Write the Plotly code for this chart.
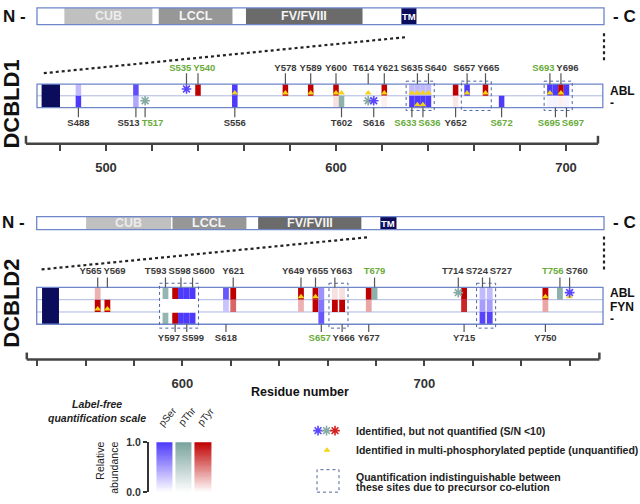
import numpy as np
import plotly.graph_objects as go

W, H = 640, 504
FONT = "Liberation Sans, Arial, Helvetica, sans-serif"

# ======================= DATA =======================
# Full-length domain architecture (residue ranges)
D1_LENGTH = 715
D1_DOMAIN_NAMES = ["CUB", "LCCL", "FV/FVIII", "TM"]
D1_DOMAIN_START = [35, 154, 264, 460]
D1_DOMAIN_END = [146, 247, 411, 479]

D2_LENGTH = 775
D2_DOMAIN_NAMES = ["CUB", "LCCL", "FV/FVIII", "TM"]
D2_DOMAIN_START = [68, 186, 303, 470]
D2_DOMAIN_END = [184, 287, 444, 492]

# Zoomed windows (residues), TM marker inside window, ruler extent, ticks
D1_WINDOW = [470, 716]
D1_WINDOW_TM = [472, 480]
D1_RULER = [465.2, 713.9]
D1_TICKS = [480, 500, 520, 540, 560, 580, 600, 620, 640, 660, 680, 700]
D1_TICK_LABELS = ["", "500", "", "", "", "", "600", "", "", "", "", "700"]

D2_WINDOW = [539.8, 773.8]
D2_WINDOW_TM = [542, 549]
D2_RULER = [535.7, 772.3]
D2_TICKS = [540, 560, 580, 600, 620, 640, 660, 680, 700, 720, 740, 760]
D2_TICK_LABELS = ["", "", "", "600", "", "", "", "", "700", "", "", ""]

# DCBLD1 phosphosites, relative abundance per condition (0 = not detected)
D1_CONDITIONS = ["ABL", "-"]
D1_SITES = ["S488", "S513", "T517", "S535", "Y540", "S556", "Y578", "Y589", "Y600",
            "T602", "T614", "S616", "Y621", "S633", "S635", "S636", "S640", "Y652",
            "S657", "Y665", "S672", "S693", "S695", "Y696", "S697"]
D1_ABL = [0.35, 0.90, 0, 0, 1.0, 1.0, 1.0, 1.0, 1.0,
          0, 0, 0, 1.0, 0.35, 0.35, 0.35, 0.35, 1.0,
          1.0, 1.0, 0, 1.0, 1.0, 1.0, 1.0]
D1_CTRL = [1.0, 0.45, 0, 0, 0, 1.0, 0, 0, 0.12,
           0.85, 0, 0, 0.06, 1.0, 1.0, 1.0, 1.0, 0.10,
           0, 0, 1.0, 0.06, 0.06, 0.06, 0.06]
D1_MULTI_ABL = ["S556", "Y578", "Y589", "Y600", "T602", "T614", "Y621", "S633", "S635",
                "S636", "S640", "S657", "Y665", "S693", "Y696"]
D1_MULTI_CTRL = ["S635", "S636"]
D1_NOQUANT_ABL = ["S535"]
D1_NOQUANT_CTRL = ["T517", "T614", "S616"]
D1_LABEL_ABOVE = ["S535", "Y540", "Y578", "Y589", "Y600", "T614", "Y621", "S635", "S640",
                  "S657", "Y665", "S693", "Y696"]
D1_GREEN = ["T517", "S535", "Y540", "S633", "S636", "S672", "S693", "S695", "S697"]
D1_COELUTION = [["S633", "S635", "S636", "S640"], ["S657", "Y665"],
                ["S693", "S695", "Y696", "S697"]]
D1_COELUTION_GAP_ROW = [None, None, None]

# DCBLD2 phosphosites
D2_CONDITIONS = ["ABL", "FYN", "-"]
D2_SITES = ["Y565", "Y569", "T593", "Y597", "S598", "S599", "S600", "S618", "Y621",
            "Y649", "Y655", "S657", "Y663", "Y666", "Y677", "T679", "T714", "Y715",
            "S724", "S727", "Y750", "T756", "S760"]
D2_ABL = [0.30, 0, 0.80, 1.0, 1.0, 1.0, 1.0, 0.85, 1.0,
          1.0, 1.0, 0.55, 0.12, 0.12, 1.0, 0.85, 0, 1.0,
          0.35, 0.35, 1.0, 0.85, 0]
D2_FYN = [1.0, 1.0, 0, 0, 0, 0, 0, 0.30, 0.60,
          0.30, 1.0, 0.70, 1.0, 1.0, 0.35, 0, 0, 0.85,
          0.50, 0.50, 0.35, 0, 0]
D2_CTRL = [0, 0, 0.80, 1.0, 1.0, 1.0, 1.0, 0, 0,
           0, 0, 0.85, 0, 0, 0, 0, 0, 0,
           0.95, 0.95, 0, 0, 0]
D2_MULTI_ABL = ["Y649", "Y655", "Y750", "S760"]
D2_MULTI_FYN = ["Y565", "Y569"]
D2_NOQUANT_ABL = ["T714", "S760"]
D2_LABEL_ABOVE = ["Y565", "Y569", "T593", "S598", "S600", "Y621", "Y649", "Y655", "Y663",
                  "T679", "T714", "S724", "S727", "T756", "S760"]
D2_GREEN = ["S657", "T679", "T756"]
D2_COELUTION = [["T593", "Y597", "S598", "S599", "S600"], ["Y663", "Y666"], ["S724", "S727"]]
D2_COELUTION_GAP_ROW = ["FYN", None, None]

SCALE_NAMES = ["pSer", "pThr", "pTyr"]
SCALE_AA = ["S", "T", "Y"]
SCALE_TICKS = [0, 1]
SCALE_TICK_LABELS = ["0.0", "1.0"]

# ======================= STYLE =======================
BASE = {"S": (78, 58, 250), "T": (122, 163, 157), "Y": (192, 0, 0)}
STAR = {"S": "#5a46ff", "T": "#86aaa4", "Y": "#d42020"}
DARK = "#3a3a3a"
GREEN = "#6aab3b"
TRI = "#f5d315"
ROWLINE = "#aab8e0"
BORDER = "#6f86c8"
GROUPLINE = "#4f62a0"
NAVY = "#0c0c5c"
DOMAIN_FILL = ["#c0c0c0", "#979797", "#6b6b6b", NAVY]
DOMAIN_TEXT = ["#ededed", "#f4f4f4", "#f4f4f4", "#ffffff"]
BAR_W = 2.4
LABEL_GAP_PX = 24

T1 = dict(top=80.0, row_h=12.0, dom=(56, 141), ppr=2.3, ref_res=500, ref_px=106,
          top_lab=64.5, top_line=(69, 80), bot_line=(104, 114), bot_lab=120.5,
          box=(77, 107), cap=8, lab_y=[87, 99])
T2 = dict(top=288.3, row_h=12.57, dom=(260, 362), ppr=2.42, ref_res=600, ref_px=182.4,
          top_lab=272.5, top_line=(278, 288.3), bot_line=(326, 334), bot_lab=341,
          box=(284, 330), cap=7, lab_y=[294, 308, 321])


def py(p):
    return 1 - p / H


def row_y(T, p):
    return (p - T["top"]) / T["row_h"]


def xrange_for(T):
    return [T["ref_res"] - T["ref_px"] / T["ppr"], T["ref_res"] + (W - T["ref_px"]) / T["ppr"]]


def rgb_of(aa, v):
    r, g, b = BASE[aa]
    return (round(255 + (r - 255) * v), round(255 + (g - 255) * v), round(255 + (b - 255) * v))


def tint(aa, v):
    return "rgb(%d,%d,%d)" % rgb_of(aa, v)


def dodge(res, gap):
    pos = np.array(res, float)
    last = -1e9
    for i in np.argsort(res, kind="stable"):
        p = max(res[i], last + gap)
        pos[i] = p
        last = p
    return pos


def spread(xs, gap):
    xs = list(xs)
    order = sorted(range(len(xs)), key=lambda i: xs[i])
    clusters = [[i] for i in order]

    def place(c):
        m = sum(xs[i] for i in c) / len(c)
        n = len(c)
        return [m + (k - (n - 1) / 2) * gap for k in range(n)]

    merged = True
    while merged:
        merged = False
        for j in range(len(clusters) - 1):
            a, b = place(clusters[j]), place(clusters[j + 1])
            if b[0] - a[-1] < gap - 1e-9:
                clusters[j] = clusters[j] + clusters[j + 1]
                del clusters[j + 1]
                merged = True
                break
    out = [0.0] * len(xs)
    for c in clusters:
        for i, p in zip(c, place(c)):
            out[i] = p
    return out


fig = go.Figure()
shapes = []
annotations = []


def draw_track(xa, ya, T, sites, conds, vals, multi, noquant, above, green, groups, gap_rows,
               window, window_tm, ruler):
    n = len(conds)
    res = [int(s[1:]) for s in sites]
    pos = dodge(res, BAR_W)
    idx = {s: i for i, s in enumerate(sites)}
    L = "below"
    shapes.append(dict(type="rect", xref=xa, yref=ya, x0=window[0], x1=window[1], y0=0, y1=n,
                       fillcolor="white", line=dict(width=0), layer=L))
    for k in range(1, n):
        shapes.append(dict(type="line", xref=xa, yref=ya, x0=window[0], x1=window[1], y0=k, y1=k,
                           line=dict(color=ROWLINE, width=1), layer=L))
    shapes.append(dict(type="rect", xref=xa, yref=ya, x0=window_tm[0], x1=window_tm[1], y0=0, y1=n,
                       fillcolor=NAVY, line=dict(width=0), layer=L))
    for r, rv in enumerate(vals):
        for i, s in enumerate(sites):
            if rv[i] > 0:
                shapes.append(dict(type="rect", xref=xa, yref=ya, x0=pos[i] - BAR_W / 2,
                                   x1=pos[i] + BAR_W / 2, y0=r, y1=r + 1,
                                   fillcolor=tint(s[0], rv[i]), line=dict(width=0), layer=L))
    pad = 3.0 / T["ppr"]
    ext = []
    for g in groups:
        gp = [pos[idx[s]] for s in g]
        ext.append((min(gp) - BAR_W / 2 - pad, max(gp) + BAR_W / 2 + pad))
    for (gx0, gx1), gr in zip(ext, gap_rows):
        if gr is not None:
            r = conds.index(gr)
            shapes.append(dict(type="rect", xref=xa, yref=ya, x0=gx0, x1=gx1, y0=r - 0.06,
                               y1=r + 1.06, fillcolor="white", line=dict(width=0), layer=L))
    shapes.append(dict(type="rect", xref=xa, yref=ya, x0=window[0], x1=window[1], y0=0, y1=n,
                       line=dict(color=BORDER, width=1.3), layer=L))
    by0, by1 = row_y(T, T["box"][0]), row_y(T, T["box"][1])
    for gx0, gx1 in ext:
        shapes.append(dict(type="rect", xref=xa, yref=ya, x0=gx0, x1=gx1, y0=by0, y1=by1,
                           line=dict(color=GROUPLINE, width=1, dash="dot"), layer=L))
    # ruler
    yd = ya + " domain"
    shapes.append(dict(type="line", xref=xa, yref=yd, x0=ruler[0], x1=ruler[1], y0=0, y1=0,
                       line=dict(color="#444", width=2.5)))
    capf = T["cap"] / (T["dom"][1] - T["dom"][0])
    for xr in ruler:
        shapes.append(dict(type="line", xref=xa, yref=yd, x0=xr, x1=xr, y0=0, y1=capf,
                           line=dict(color="#444", width=2.5)))
    # triangles & stars
    tx, ty, sx, sy, sc = [], [], [], [], []
    for r, c in enumerate(conds):
        for s in multi.get(c, []):
            tx.append(pos[idx[s]]); ty.append(r + 0.76)
        for s in noquant.get(c, []):
            sx.append(pos[idx[s]]); sy.append(r + 0.42); sc.append(STAR[s[0]])
    fig.add_trace(go.Scatter(x=tx, y=ty, mode="markers", xaxis=xa, yaxis=ya, hoverinfo="skip",
                             marker=dict(symbol="triangle-up", size=6, color=TRI, line=dict(width=0))))
    fig.add_trace(go.Scatter(x=sx, y=sy, mode="markers", xaxis=xa, yaxis=ya, hoverinfo="skip",
                             marker=dict(symbol="asterisk-open", size=8, color=sc,
                                         line=dict(width=1.6, color=sc))))
    # labels with leader lines
    top_idx = [i for i, s in enumerate(sites) if s in above]
    bot_idx = [i for i, s in enumerate(sites) if s not in above]
    groups_lab = [(top_idx, T["top_lab"], T["top_line"]), (bot_idx, T["bot_lab"], T["bot_line"])]
    for ids, ylab, (l0, l1) in groups_lab:
        lx = spread([pos[i] for i in ids], LABEL_GAP_PX / T["ppr"])
        fig.add_trace(go.Scatter(
            x=lx, y=[row_y(T, ylab)] * len(ids), mode="text", xaxis=xa, yaxis=ya,
            text=["<b>%s</b>" % sites[i] for i in ids], hoverinfo="skip", cliponaxis=False,
            textfont=dict(family=FONT, size=9.5,
                          color=[GREEN if sites[i] in green else DARK for i in ids])))
        for i in ids:
            shapes.append(dict(type="line", xref=xa, yref=ya, x0=pos[i], x1=pos[i],
                               y0=row_y(T, l0), y1=row_y(T, l1),
                               line=dict(color="#555", width=1.2), layer=L))
    # condition labels
    for c, yl in zip(conds, T["lab_y"]):
        annotations.append(dict(x=608 / W, y=py(yl),
                                xref="paper", yref="paper", xanchor="left", yanchor="middle",
                                showarrow=False, text="<b>%s</b>" % c,
                                font=dict(size=12, color="#111")))


def draw_overview(xa, ya, names, starts, ends, fs):
    for nm, s0, s1, fc, tc in zip(names, starts, ends, DOMAIN_FILL, DOMAIN_TEXT):
        shapes.append(dict(type="rect", xref=xa, yref=ya + " domain", x0=s0, x1=s1, y0=0, y1=1,
                           fillcolor=fc, line=dict(width=0)))
        annotations.append(dict(x=(s0 + s1) / 2, y=0.5, xref=xa, yref=ya + " domain",
                                xanchor="center", yanchor="middle",
                                showarrow=False, text="<b>%s</b>" % nm,
                                font=dict(size=fs if nm != "TM" else 9.5, color=tc)))
    shapes.append(dict(type="rect", xref=xa + " domain", yref=ya + " domain", x0=0, x1=1, y0=0,
                       y1=1, line=dict(color=BORDER, width=1.3)))


draw_overview("x3", "y3", D1_DOMAIN_NAMES, D1_DOMAIN_START, D1_DOMAIN_END, 12.5)
draw_overview("x4", "y4", D2_DOMAIN_NAMES, D2_DOMAIN_START, D2_DOMAIN_END, 12.5)

draw_track("x", "y", T1, D1_SITES, D1_CONDITIONS, [D1_ABL, D1_CTRL],
           {"ABL": D1_MULTI_ABL, "-": D1_MULTI_CTRL},
           {"ABL": D1_NOQUANT_ABL, "-": D1_NOQUANT_CTRL},
           D1_LABEL_ABOVE, D1_GREEN, D1_COELUTION, D1_COELUTION_GAP_ROW,
           D1_WINDOW, D1_WINDOW_TM, D1_RULER)
draw_track("x2", "y2", T2, D2_SITES, D2_CONDITIONS, [D2_ABL, D2_FYN, D2_CTRL],
           {"ABL": D2_MULTI_ABL, "FYN": D2_MULTI_FYN},
           {"ABL": D2_NOQUANT_ABL},
           D2_LABEL_ABOVE, D2_GREEN, D2_COELUTION, D2_COELUTION_GAP_ROW,
           D2_WINDOW, D2_WINDOW_TM, D2_RULER)

# quantification scale (gradient legend): one heatmap, column k uses band [2k, 2k+1]
grad = np.linspace(0, 1, 60)
zz = np.column_stack([grad + 2 * k for k in range(len(SCALE_NAMES))])
cs = []
for k, aa in enumerate(SCALE_AA):
    cs.append([(2 * k) / 5, "white"])
    cs.append([(2 * k + 1) / 5, tint(aa, 1)])
fig.add_trace(go.Heatmap(z=zz, x0=0, dx=1, y0=0, dy=1 / 59, xaxis="x5", yaxis="y5",
                         zmin=0, zmax=5, showscale=False, xgap=3, hoverinfo="skip",
                         colorscale=cs))

# legend glyphs (pixel overlay)
leg_star_col = [STAR["S"], STAR["T"], STAR["Y"]]
fig.add_trace(go.Scatter(x=[318, 326.5, 335], y=[435, 435, 435], mode="markers", xaxis="x6",
                         yaxis="y6", hoverinfo="skip",
                         marker=dict(symbol="asterisk-open", size=8, color=leg_star_col,
                                     line=dict(width=1.6, color=leg_star_col))))
fig.add_trace(go.Scatter(x=[327], y=[455], mode="markers", xaxis="x6", yaxis="y6",
                         hoverinfo="skip",
                         marker=dict(symbol="triangle-up", size=6, color=TRI)))
shapes.append(dict(type="rect", xref="paper", yref="paper", x0=317 / W, x1=339 / W, y0=py(498),
                   y1=py(475), line=dict(color=GROUPLINE, width=1, dash="dot")))

# dotted zoom connectors
for (xa0, ya0, xa1, ya1) in [(405, 32, 42, 69), (604, 28, 604, 58),
                             (367, 237, 40, 270), (604, 236, 604, 273)]:
    shapes.append(dict(type="line", xref="paper", yref="paper", x0=xa0 / W, y0=py(ya0),
                       x1=xa1 / W, y1=py(ya1), line=dict(color="#222", width=2.2, dash="dot")))


def txt(x, y, s, size, color="#111", angle=0, xanchor="center", align="center"):
    annotations.append(dict(x=x / W, y=py(y), xref="paper", yref="paper", text=s,
                            showarrow=False, textangle=angle, xanchor=xanchor,
                            yanchor="middle", align=align,
                            font=dict(size=size, color=color)))


txt(14, 11, "<b>N -</b>", 17)
txt(624, 11, "<b>- C</b>", 17)
txt(13, 222, "<b>N -</b>", 17)
txt(624, 222, "<b>- C</b>", 17)
txt(12, 101, "<b>DCBLD1</b>", 22, angle=-90)
txt(12, 305, "<b>DCBLD2</b>", 22, angle=-90)
txt(300, 395, "<b>Residue number</b>", 12.5)
txt(97, 408, "<b><i>Label-free</i></b>", 10.5, "#222")
txt(97, 422, "<b><i>quantification scale</i></b>", 10.5, "#222")
txt(107, 473, "Relative<br>abundance", 10.5, "#222", angle=-90, align="right")
for k, name in enumerate(SCALE_NAMES):
    txt(168 + 19 * k, 421, name, 10, "#222", angle=-50)
txt(354, 435, "<b>Identified, but not quantified (S/N &lt;10)</b>", 10.5, "#222", xanchor="left")
txt(354, 455, "<b>Identified in multi-phosphorylated peptide (unquantified)</b>", 10.5, "#222",
    xanchor="left")
txt(354, 482, "<b>Quantification indistinguishable between</b>", 10.5, "#222", xanchor="left")
txt(354, 493, "<b>these sites due to precursor co-elution</b>", 10.5, "#222", xanchor="left")


def ruler_axis(T, ticks, labels, anchor):
    return dict(domain=[0, 1], range=xrange_for(T), anchor=anchor, showgrid=False, zeroline=False,
                showline=False, tickmode="array", tickvals=ticks,
                ticktext=["<b>%s</b>" % t if t else "" for t in labels], ticks="outside",
                ticklen=6, tickwidth=2, tickcolor="#444", ticklabelstandoff=6,
                tickfont=dict(size=13, color="#333", family=FONT), fixedrange=True)


def track_yaxis(T):
    return dict(domain=[py(T["dom"][1]), py(T["dom"][0])],
                range=[row_y(T, T["dom"][1]), row_y(T, T["dom"][0])], visible=False,
                fixedrange=True)


hidden = dict(visible=False, fixedrange=True)
fig.update_layout(
    width=W, height=H, margin=dict(l=0, r=0, t=0, b=0), paper_bgcolor="white",
    plot_bgcolor="rgba(0,0,0,0)", showlegend=False, font=dict(family=FONT, color="#222"),
    xaxis=ruler_axis(T1, D1_TICKS, D1_TICK_LABELS, "y"),
    yaxis=track_yaxis(T1),
    xaxis2=ruler_axis(T2, D2_TICKS, D2_TICK_LABELS, "y2"),
    yaxis2=track_yaxis(T2),
    xaxis3=dict(domain=[37 / W, 604 / W], range=[0.5, D1_LENGTH + 0.5], anchor="y3", **hidden),
    yaxis3=dict(domain=[py(19), py(2)], range=[0, 1], anchor="x3", **hidden),
    xaxis4=dict(domain=[36.7 / W, 604 / W], range=[0.5, D2_LENGTH + 0.5], anchor="y4", **hidden),
    yaxis4=dict(domain=[py(229), py(215.7)], range=[0, 1], anchor="x4", **hidden),
    xaxis5=dict(domain=[149 / W, 214 / W], range=[-0.833, 2.557], anchor="y5", **hidden),
    yaxis5=dict(domain=[py(498), py(447)], range=[0, 1], anchor="x5", showgrid=False,
                zeroline=False, showline=True, linecolor="#333", linewidth=2.2, ticks="outside",
                ticklen=4, tickwidth=2.2, tickcolor="#333", tickmode="array",
                tickvals=SCALE_TICKS, ticktext=["<b>%s</b>" % t for t in SCALE_TICK_LABELS],
                tickfont=dict(size=10.5, color="#333"), fixedrange=True),
    xaxis6=dict(domain=[0, 1], range=[0, W], anchor="y6", **hidden),
    yaxis6=dict(domain=[0, 1], range=[H, 0], anchor="x6", **hidden),
    shapes=shapes, annotations=annotations,
)

fig.write_html("out.html", config={"displayModeBar": False},
               post_script="document.body.style.margin='0';document.body.style.overflow='hidden';")
